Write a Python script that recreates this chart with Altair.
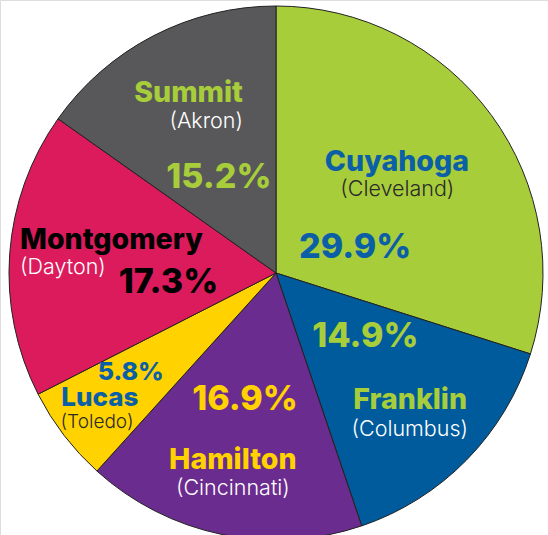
import math
import altair as alt
import pandas as pd

# ---- data ----
counties = ["Cuyahoga", "Franklin", "Hamilton", "Lucas", "Montgomery", "Summit"]
cities = ["(Cleveland)", "(Columbus)", "(Cincinnati)", "(Toledo)", "(Dayton)", "(Akron)"]
shares = [29.9, 14.9, 16.9, 5.8, 17.3, 15.2]

# ---- styles ----
slice_colors = ["#a8cd3a", "#005b9d", "#6b2c8f", "#ffd200", "#db1b5c", "#58585a"]
name_colors = ["#0b5fa6", "#a8cd3a", "#ffd200", "#0b5fa6", "#000000", "#a8cd3a"]
city_colors = ["#2b2b2b", "#ffffff", "#ffffff", "#2b2b2b", "#ffffff", "#ffffff"]
pct_colors = name_colors
name_sizes = [28.5, 28.5, 28.5, 26, 28.5, 28.5]
city_sizes = [21.5, 21.5, 21.5, 19, 21.5, 21.5]
pct_sizes = [34, 34, 34, 25, 34, 34]

# label layout (angle in degrees clockwise from top, radius in px), align
name_pos = [(47.5, 164), (133.5, 185), (193.0, 192), (234.6, 216), (277.3, 258), (349.6, 183)]
name_align = ["center", "center", "center", "center", "left", "right"]
city_pos = [(55.6, 147), (139.5, 206), (191.3, 220), (230.2, 233), (271.1, 256), (347.7, 155)]
city_align = ["center", "center", "center", "center", "left", "right"]
pct_pos = [(72.4, 83), (125.7, 110), (193.7, 131), (235.6, 176), (264.7, 108), (329.0, 111)]

CX, CY, R = 276, 273, 267
FONT = "Inter"

pie_df = pd.DataFrame({"county": counties, "share": shares, "idx": list(range(len(counties)))})

pie = alt.Chart(pie_df).mark_arc(
    outerRadius=R, stroke="#222222", strokeWidth=1
).encode(
    theta=alt.Theta("share:Q", stack=True),
    color=alt.Color("county:N", scale=alt.Scale(domain=counties, range=slice_colors), legend=None),
    order=alt.Order("idx:Q"),
    x=alt.value(CX),
    y=alt.value(CY),
)


def polar(p):
    a = math.radians(p[0])
    return CX + p[1] * math.sin(a), CY - p[1] * math.cos(a)


weights = {"name": 800, "city": 300, "pct": 800}

layers = [pie]
for i in range(len(counties)):
    items = [
        ("name", counties[i], name_pos[i], name_colors[i], name_align[i], name_sizes[i]),
        ("city", cities[i], city_pos[i], city_colors[i], city_align[i], city_sizes[i]),
        ("pct", f"{shares[i]:.1f}%", pct_pos[i], pct_colors[i], "center", pct_sizes[i]),
    ]
    for kind, txt, pos, col, al, fs in items:
        px, py = polar(pos)
        d = pd.DataFrame({"label": [txt], "px": [px], "py": [py]})
        layers.append(
            alt.Chart(d).mark_text(font=FONT, align=al, baseline="middle", color=col,
                                   fontSize=fs, fontWeight=weights[kind]).encode(
                x=alt.X("px:Q", scale=None, axis=None),
                y=alt.Y("py:Q", scale=None, axis=None),
                text=alt.Text("label:N"),
            )
        )

chart = alt.layer(*layers).properties(
    width=548, height=535, padding=0, autosize=alt.AutoSizeParams(type="none")
).configure_view(stroke=None).configure(background="white")

chart.save("out.html", embed_options={"renderer": "svg", "actions": False})
